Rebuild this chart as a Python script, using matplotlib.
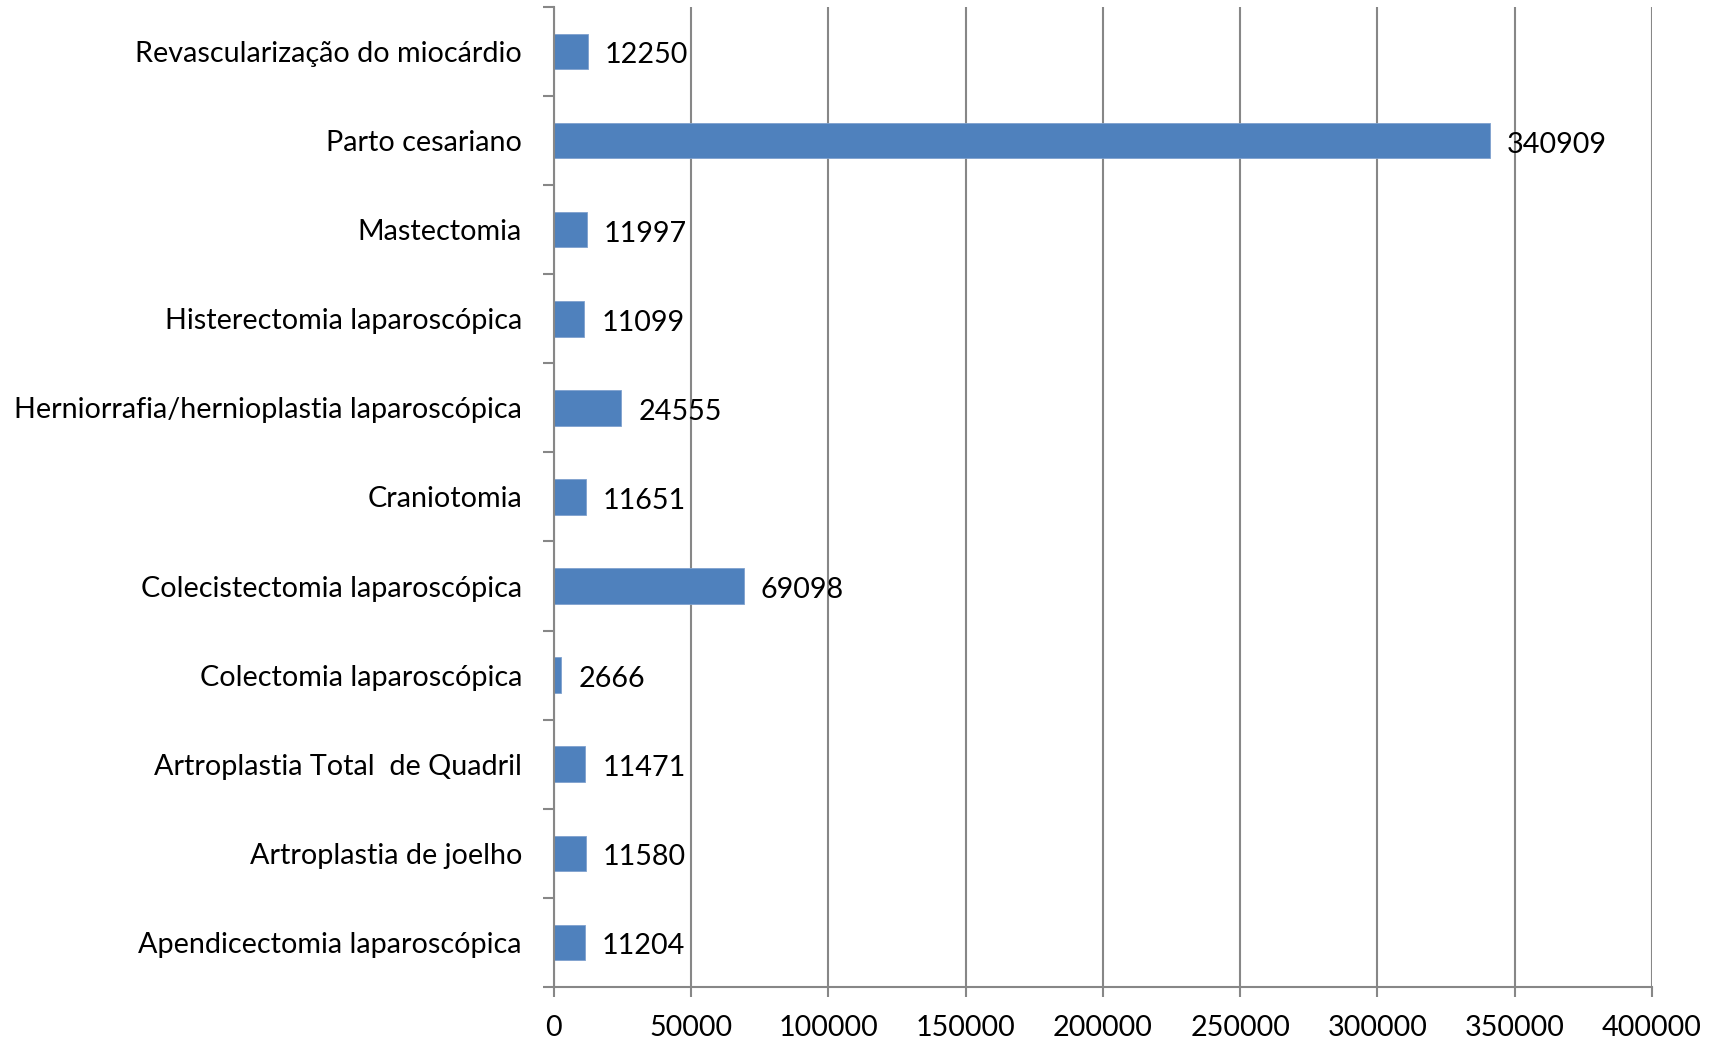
import matplotlib
matplotlib.use("Agg")
import matplotlib.pyplot as plt
import numpy as np

categories = [
    "Apendicectomia laparoscópica",
    "Artroplastia de joelho",
    "Artroplastia Total  de Quadril",
    "Colectomia laparoscópica",
    "Colecistectomia laparoscópica",
    "Craniotomia",
    "Herniorrafia/hernioplastia laparoscópica",
    "Histerectomia laparoscópica",
    "Mastectomia",
    "Parto cesariano",
    "Revascularização do miocárdio",
]
values = [11204, 11580, 11471, 2666, 69098, 11651, 24555, 11099, 11997, 340909, 12250]
x_ticks = [0, 50000, 100000, 150000, 200000, 250000, 300000, 350000, 400000]

plt.rcParams['font.family'] = ['Lato', 'DejaVu Sans']
FS = 20.7
grid_color = '#878787'
bar_color = '#4F81BD'

fig = plt.figure(figsize=(17.16, 10.42), dpi=100)
ax = fig.add_axes([0.3228, 0.0528, 0.9627 - 0.3228, 0.9934 - 0.0528])

pos = np.arange(len(categories))
ax.barh(pos, values, height=0.4, color=bar_color, edgecolor='#7FA1CE', linewidth=0.6, zorder=3)

for p, v in zip(pos, values):
    ax.annotate(str(v), (v, p), xytext=(17, -4), textcoords='offset pixels',
                ha='left', va='center', fontsize=FS, color='black', zorder=4)

ax.set_xlim(0, 400000)
ax.set_ylim(-0.5, len(categories) - 0.5)

ax.set_xticks(x_ticks)
ax.set_xticklabels([str(t) for t in x_ticks], fontsize=FS)
ax.xaxis.grid(True, color=grid_color, linewidth=1.5, zorder=0)
ax.tick_params(axis='x', direction='out', length=7, width=1.5, color=grid_color, pad=13)

ax.set_yticks(np.arange(-0.5, len(categories), 1.0))
ax.set_yticklabels([])
ax.set_yticks(pos, minor=True)
ax.set_yticklabels(categories, minor=True, fontsize=FS)
ax.tick_params(axis='y', which='major', direction='out', length=8, width=1.5, color=grid_color)
ax.tick_params(axis='y', which='minor', length=0, pad=23)

for s in ['top', 'right']:
    ax.spines[s].set_visible(False)
for s in ['left', 'bottom']:
    ax.spines[s].set_color(grid_color)
    ax.spines[s].set_linewidth(1.5)
    ax.spines[s].set_zorder(5)

fig.savefig('out.png', dpi=100)
